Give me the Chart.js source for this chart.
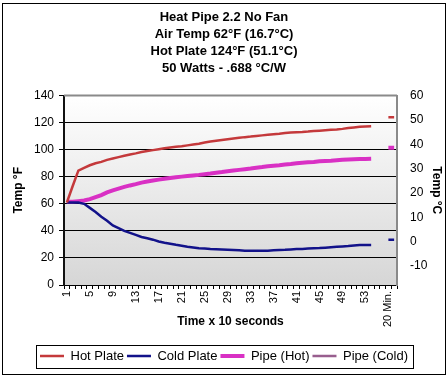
<!DOCTYPE html>
<html lang="en">
<head>
<meta charset="UTF-8">
<title>Heat Pipe 2.2 No Fan</title>
<script src="https://cdn.jsdelivr.net/npm/chart.js"></script>
<style>
    body { margin: 0; background: #fff; }
    #wrap { width: 448px; height: 376px; }
</style>
</head>
<body>
<div id="wrap"><canvas id="heatChart" width="448" height="376"></canvas></div>
<script>
    const titleLines = ['Heat Pipe 2.2 No Fan', 'Air Temp 62°F (16.7°C)', 'Hot Plate 124°F (51.1°C)', '50 Watts - .688 °C/W'];

    // x 10 seconds, last slot is the 20 minute reading
    const timeLabels = ['1','2','3','4','5','6','7','8','9','10','11','12','13','14','15','16','17','18','19','20',
        '21','22','23','24','25','26','27','28','29','30','31','32','33','34','35','36','37','38','39','40',
        '41','42','43','44','45','46','47','48','49','50','51','52','53','54','55','56','20 Min.',''];

    const hotPlate = [61, 73, 84.5, 86.5, 88.5, 90, 91, 92.5, 93.5, 94.5, 95.5, 96.5, 97.3, 98.3, 99, 99.7, 100.4, 101, 101.6, 102.2,
        102.6, 103.2, 103.8, 104.4, 105.3, 106, 106.6, 107.2, 107.8, 108.3, 108.8, 109.3, 109.7, 110.2, 110.6, 111, 111.4, 111.8, 112.3, 112.7,
        112.9, 113.1, 113.4, 113.8, 114.1, 114.4, 114.7, 115, 115.4, 116, 116.5, 117, 117.2, 117.4, null, null, 124, 124];

    const coldPlate = [61, 61, 61, 60, 57, 54, 50.5, 47.5, 44, 42, 40, 38.5, 37, 35.5, 34.5, 33.5, 32.2, 31.3, 30.5, 29.7,
        29, 28.3, 27.7, 27.1, 26.9, 26.6, 26.4, 26.2, 26, 25.8, 25.6, 25.4, 25.3, 25.3, 25.3, 25.4, 25.6, 25.8, 26, 26.3,
        26.6, 26.7, 26.9, 27.1, 27.3, 27.6, 27.9, 28.2, 28.5, 28.8, 29.2, 29.5, 29.5, 29.5, null, null, 33.5, 33.5];

    const pipeHot = [61.5, 61.5, 62, 62.5, 63.5, 65, 66.5, 68.5, 70, 71.2, 72.5, 73.6, 74.6, 75.7, 76.5, 77.2, 77.9, 78.5, 79.1, 79.6,
        80.1, 80.6, 81, 81.4, 81.9, 82.4, 83, 83.5, 84.1, 84.6, 85.1, 85.6, 86.1, 86.7, 87.2, 87.8, 88.2, 88.6, 89.1, 89.5,
        90, 90.4, 90.7, 91, 91.4, 91.7, 91.9, 92.2, 92.5, 92.7, 92.9, 93.1, 93.2, 93.3, null, null, 101.5, 101.5];

    const pipeCold = [];

    const fahrenheitTicks = [0, 20, 40, 60, 80, 100, 120, 140];
    const celsiusTicks = [-10, 0, 10, 20, 30, 40, 50, 60];

    const FONT = "'Liberation Sans', Arial, sans-serif";

    // plot area background + frames
    const framePlugin = {
        id: 'frame',
        beforeDraw(chart) {
            const { ctx, chartArea: a } = chart;
            const g = ctx.createLinearGradient(0, a.top, 0, a.bottom);
            g.addColorStop(0, '#ffffff');
            g.addColorStop(1, '#d6d6d6');
            ctx.save();
            ctx.fillStyle = g;
            ctx.fillRect(a.left, a.top, a.right - a.left, a.bottom - a.top);
            ctx.restore();
        },
        afterDraw(chart) {
            const { ctx, chartArea: a } = chart;
            ctx.save();
            ctx.strokeStyle = '#8a8a8a';
            ctx.lineWidth = 2;
            ctx.beginPath();
            ctx.moveTo(a.left, a.top);
            ctx.lineTo(a.right, a.top);
            ctx.stroke();

            // box round the legend
            const boxes = chart.legend.legendHitBoxes;
            if (boxes && boxes.length) {
                const first = boxes[0], last = boxes[boxes.length - 1];
                const l = Math.round(first.left - 4) + 0.5;
                const r = Math.round(last.left + last.width + 5) + 0.5;
                const t = Math.round(first.top - 5) + 0.5;
                const b = Math.round(first.top + first.height + 5) + 0.5;
                ctx.strokeStyle = '#000';
                ctx.lineWidth = 1;
                ctx.strokeRect(l, t, r - l, b - t);
            }

            // outer chart border
            ctx.strokeStyle = '#000';
            ctx.lineWidth = 1;
            ctx.strokeRect(2.5, 3.5, 443, 371);
            ctx.restore();
        }
    };

    const ctx = document.getElementById('heatChart').getContext('2d');
    const chart = new Chart(ctx, {
        type: 'line',
        data: {
            labels: timeLabels,
            datasets: [
                { label: 'Hot Plate', data: hotPlate, borderColor: '#c4393b', borderWidth: 2.5 },
                { label: 'Cold Plate', data: coldPlate, borderColor: '#12128a', borderWidth: 2.5 },
                { label: 'Pipe (Hot)', data: pipeHot, borderColor: '#d930c4', borderWidth: 4 },
                { label: 'Pipe (Cold)', data: pipeCold, borderColor: '#985e8e', borderWidth: 2.5 }
            ]
        },
        options: {
            responsive: false,
            animation: false,
            devicePixelRatio: 1,
            spanGaps: false,
            layout: { padding: { top: 0, left: 0, right: 0, bottom: 3.5 } },
            elements: {
                point: { radius: 0, hoverRadius: 0, pointStyle: 'line' },
                line: { tension: 0, fill: false, borderCapStyle: 'butt' }
            },
            plugins: {
                title: {
                    display: true,
                    text: titleLines,
                    color: '#000',
                    font: { family: FONT, size: 13, weight: 'bold', lineHeight: 1.3 },
                    padding: { top: 9, bottom: 19 }
                },
                legend: {
                    position: 'bottom',
                    labels: {
                        usePointStyle: true,
                        pointStyle: 'line',
                        pointStyleWidth: 24,
                        padding: 3,
                        color: '#000',
                        font: { family: FONT, size: 13 }
                    }
                },
                tooltip: { enabled: false }
            },
            scales: {
                x: {
                    type: 'category',
                    offset: true,
                    afterFit(scale) { scale.height = 61.5; },
                    grid: { drawOnChartArea: false, offset: true, color: '#000', tickLength: 4 },
                    border: { color: '#000', width: 1 },
                    ticks: {
                        autoSkip: false,
                        minRotation: 90,
                        maxRotation: 90,
                        padding: 2,
                        color: '#000',
                        font: { family: FONT, size: 11 },
                        callback: (v, i) => (i % 4 === 0 ? timeLabels[i] : '')
                    },
                    title: {
                        display: true,
                        text: 'Time x 10 seconds',
                        color: '#000',
                        font: { family: FONT, size: 12, weight: 'bold' },
                        padding: { top: 0, bottom: 18 }
                    }
                },
                y: {
                    position: 'left',
                    min: 0,
                    max: 140,
                    afterFit(scale) { scale.width = 64; },
                    afterBuildTicks(scale) { scale.ticks = fahrenheitTicks.map(v => ({ value: v })); },
                    grid: {
                        color: c => (c.tick && c.tick.value === 140 ? 'rgba(0,0,0,0)' : '#000'),
                        tickColor: '#000',
                        tickLength: 5,
                        lineWidth: 1
                    },
                    border: { color: '#111', width: 2 },
                    ticks: { padding: 5, color: '#000', font: { family: FONT, size: 12 } },
                    title: {
                        display: true,
                        text: 'Temp °F',
                        color: '#000',
                        font: { family: FONT, size: 12, weight: 'bold' },
                        padding: { top: 11, bottom: 0 }
                    }
                },
                y2: {
                    position: 'right',
                    min: (0 - 32) * 5 / 9,
                    max: (140 - 32) * 5 / 9,
                    afterFit(scale) { scale.width = 51; },
                    afterBuildTicks(scale) { scale.ticks = celsiusTicks.map(v => ({ value: v })); },
                    grid: { display: false, drawOnChartArea: false, drawTicks: false },
                    border: { display: true, color: '#8a8a8a', width: 2 },
                    ticks: { padding: 13, color: '#000', font: { family: FONT, size: 12 } },
                    title: {
                        display: true,
                        text: 'Temp °C',
                        color: '#000',
                        font: { family: FONT, size: 12, weight: 'bold' },
                        padding: { top: 4, bottom: 0 }
                    }
                }
            }
        },
        plugins: [framePlugin]
    });
</script>
</body>
</html>
